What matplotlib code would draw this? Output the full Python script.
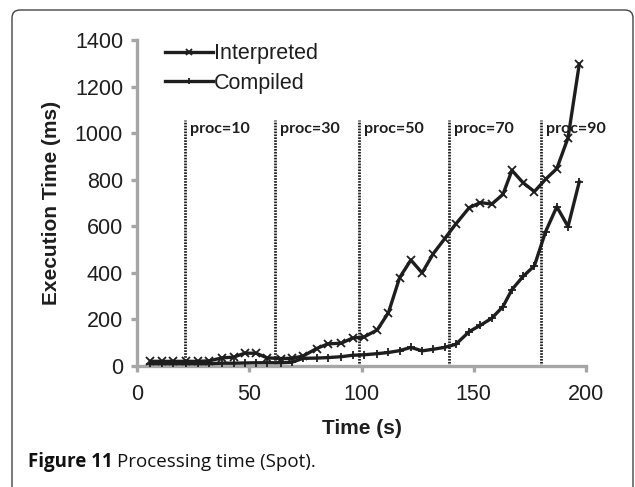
import matplotlib
matplotlib.use("Agg")
import matplotlib.pyplot as plt
from matplotlib.patches import FancyBboxPatch

# time stamps (s)
times = [6, 11, 16, 22, 27, 32, 38, 43, 48, 53,
         58, 64, 69, 74, 80, 85, 91, 96, 101, 107,
         112, 117, 122, 127, 132, 137, 142, 148, 153, 158,
         163, 167, 172, 177, 182, 187, 192, 197]

# execution time (ms)
interpreted = [20, 20, 20, 20, 20, 22, 35, 38, 55, 55,
               35, 32, 33, 43, 75, 95, 98, 120, 124, 155,
               229, 380, 455, 400, 483, 546, 610, 680, 702, 695,
               737, 840, 787, 749, 802, 848, 980, 1296]
compiled = [10, 10, 10, 10, 10, 10, 12, 12, 13, 14,
            14, 14, 16, 33, 34, 36, 40, 46, 48, 53,
            58, 66, 80, 65, 72, 80, 93, 148, 175, 205,
            255, 328, 385, 430, 577, 684, 599, 791]

proc_x = [21.5, 61.5, 99, 139, 180]
proc_labels = ["proc=10", "proc=30", "proc=50", "proc=70", "proc=90"]

W, H = 635, 487
fig = plt.figure(figsize=(W / 100, H / 100), dpi=100)
ax = fig.add_axes([137 / W, 1 - 366 / H, (586 - 137) / W, (366 - 40) / H])

ink = "#1e1e1e"
grey = "#a6a6a6"

for x, lab in zip(proc_x, proc_labels):
    ax.plot([x, x], [0, 1055], color=ink, lw=2.0, ls=(0, (0.6, 0.45)), zorder=2)
    ax.text(x + 2.0, 1050, lab, fontsize=11.5, fontweight="bold", family="Lato",
            color=ink, va="top", ha="left")

ax.plot(times, interpreted, color=ink, lw=2.4, marker="x", ms=6, mew=1.3,
        label="Interpreted", zorder=3)
ax.plot(times, compiled, color=ink, lw=2.4, marker="+", ms=6, mew=1.3,
        label="Compiled", zorder=3)

ax.set_xlim(0, 200)
ax.set_ylim(0, 1400)
ax.set_xticks([0, 50, 100, 150, 200])
ax.set_yticks(range(0, 1401, 200))

for s in ["top", "right"]:
    ax.spines[s].set_visible(False)
for s in ["left", "bottom"]:
    ax.spines[s].set_color(grey)
    ax.spines[s].set_linewidth(2.4)
ax.tick_params(colors=grey, width=2.4, length=4, labelcolor=ink,
               labelsize=15.5, pad=6)
ax.tick_params(axis="x", pad=9)
for lbl in ax.get_xticklabels() + ax.get_yticklabels():
    lbl.set_family("Liberation Sans")

ax.set_xlabel("Time (s)", fontsize=15, fontweight="bold", family="Liberation Sans",
              color=ink, labelpad=10)
ax.set_ylabel("Execution Time (ms)", fontsize=15, fontweight="bold",
              family="Liberation Sans", color=ink, labelpad=10)

leg = ax.legend(loc="upper left", bbox_to_anchor=(0.02, 1.05), frameon=False,
                prop={"family": "Liberation Sans", "size": 15.5},
                handlelength=2.2, handletextpad=0.05, labelspacing=0.4,
                markerscale=0.8)
for t in leg.get_texts():
    t.set_color(ink)

# rounded frame around the figure panel, open at the bottom
frame = FancyBboxPatch((0.12, -0.3), 6.21, 4.77 + 0.3,
                       boxstyle="round,pad=0,rounding_size=0.08",
                       transform=fig.dpi_scale_trans, fill=False,
                       edgecolor="#444444", lw=1.0)
fig.patches.append(frame)

# caption
cap_y = 0.25
t1 = fig.text(0.28 / (W / 100), cap_y / (H / 100), "Figure 11", fontsize=13.5,
              fontweight="bold", family="Open Sans", color="#111111", va="center")
fig.canvas.draw()
bb = t1.get_window_extent(fig.canvas.get_renderer())
fig.text((bb.x1 + 4) / W, cap_y / (H / 100), "Processing time (Spot).",
         fontsize=13.5, family="Open Sans", color="#111111", va="center")

fig.savefig("out.png", dpi=100)
